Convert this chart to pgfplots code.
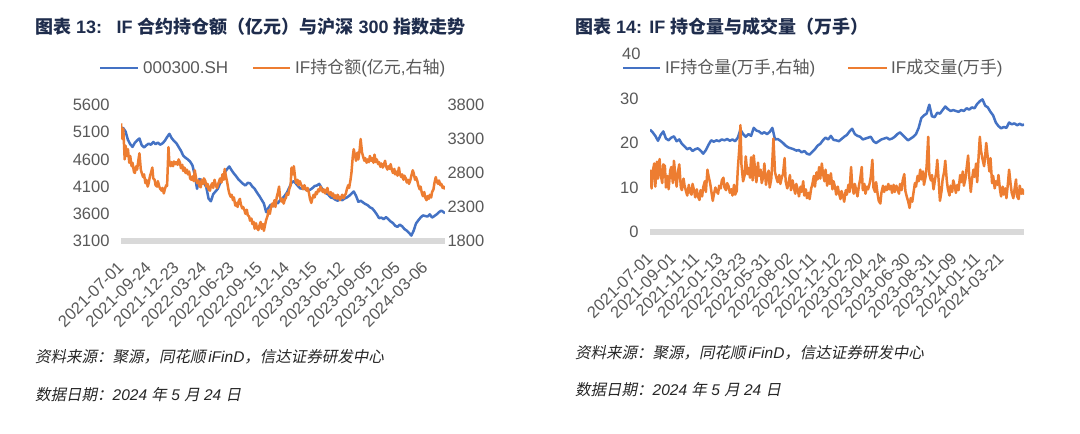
\documentclass[border=0pt]{standalone}
\usepackage{fontspec}
\setmainfont{Liberation Sans}
\newfontfamily\cjk{Noto Sans CJK SC}
\newfontfamily\cjkit{Noto Sans CJK SC}[FakeSlant=0.2]
\usepackage{pgfplots}
\pgfplotsset{compat=1.18}
\usepackage{pgfplotstable}

\definecolor{ablue}{HTML}{4472C4}
\definecolor{aorange}{HTML}{ED7D31}
\definecolor{tickgray}{HTML}{595959}
\definecolor{bargray}{HTML}{D9D9D9}
\definecolor{titleblue}{HTML}{1F2D4D}
\definecolor{notegray}{HTML}{262626}

% CSI 300 close (left axis of chart 13), x = trading day index from 2021-07-01
\pgfplotstableread{
x y
0 5140
5 5175
10 5110
15 4960
20 4880
25 4830
30 4905
35 4950
40 4985
45 4860
50 4820
55 4860
60 4890
65 4870
70 4920
75 4880
80 4910
85 4870
90 4895
95 4940
100 5010
105 5070
110 4990
115 4940
120 4900
125 4830
130 4760
135 4670
140 4630
145 4600
150 4560
155 4490
160 4320
165 4060
170 4240
175 4220
180 4170
185 4090
190 3880
195 3830
200 3960
205 4010
210 4060
215 4160
220 4270
225 4360
230 4420
235 4470
240 4400
245 4340
250 4290
255 4230
260 4190
265 4150
270 4120
275 4170
280 4160
285 4100
290 4060
295 3990
300 3930
305 3860
310 3790
315 3630
320 3710
325 3770
330 3740
335 3820
340 3790
345 3850
350 3880
355 3930
360 3990
365 4080
370 4170
375 4200
380 4150
385 4100
390 4060
395 4090
400 4050
405 4030
410 4040
415 4070
420 4110
425 4120
430 4150
435 4080
440 4020
445 3980
450 3950
455 3900
460 3890
465 3860
470 3840
475 3870
480 3850
485 3880
490 3900
495 3930
500 3970
505 4010
510 3930
515 3820
520 3840
525 3810
530 3780
535 3760
540 3720
545 3700
550 3650
555 3590
560 3520
565 3530
570 3500
575 3540
580 3500
585 3460
590 3430
595 3380
600 3360
605 3400
610 3370
615 3320
620 3290
625 3250
630 3200
635 3290
640 3420
645 3480
650 3530
655 3570
660 3560
665 3550
670 3590
675 3530
680 3560
685 3590
690 3630
695 3660
700 3630
703 3610
}\hsindex

% IF open interest value, 100 million CNY (right axis of chart 13)
\pgfplotstableread{
x y
0 3530
3 3300
5 3450
8 3000
10 3200
13 3050
15 3150
18 2950
20 3050
23 2900
25 2950
28 2820
30 2800
33 2900
35 2850
38 3000
40 3090
43 2850
45 2800
48 2740
50 2780
53 2650
55 2700
58 2600
60 2650
63 2760
65 2800
68 2880
70 2720
73 2700
75 2620
78 2600
80 2680
83 2600
85 2570
88 2540
90 2580
93 2500
95 2560
98 2620
100 2610
103 3180
105 2950
108 2900
110 2960
113 2900
115 2970
118 2930
120 2960
123 2920
125 3000
128 2950
130 2870
133 2920
135 2830
138 2880
140 2800
143 2850
145 2780
148 2820
150 2720
153 2700
155 2750
158 2680
160 2840
163 2720
165 2650
168 2690
170 2610
173 2590
175 2700
178 2640
180 2720
183 2680
185 2600
188 2640
190 2560
193 2540
195 2610
198 2650
200 2580
203 2700
205 2640
208 2580
210 2620
213 2680
215 2720
218 2660
220 2780
223 2700
225 2860
228 2740
230 2680
233 2560
235 2500
238 2450
240 2480
243 2400
245 2440
248 2320
250 2360
253 2300
255 2380
258 2420
260 2340
263 2280
265 2300
268 2250
270 2200
273 2260
275 2180
278 2160
280 2100
283 2130
285 2050
288 2080
290 1980
293 2060
295 1990
298 1960
300 2020
303 2080
305 1980
308 2050
310 1950
313 2050
315 2110
318 2170
320 2250
323 2200
325 2280
328 2350
330 2310
333 2400
335 2300
338 2450
340 2500
343 2600
345 2450
348 2380
350 2420
353 2350
355 2400
358 2440
360 2500
363 2480
365 2560
368 2620
370 2880
373 2780
375 2900
378 2720
380 2650
383 2700
385 2620
388 2680
390 2640
393 2600
395 2560
398 2620
400 2580
403 2540
405 2580
408 2500
410 2420
413 2360
415 2420
418 2480
420 2440
423 2520
425 2490
428 2560
430 2530
433 2600
435 2560
438 2520
440 2560
443 2500
445 2540
448 2580
450 2510
453 2480
455 2520
458 2460
460 2500
463 2430
465 2470
468 2420
470 2480
473 2440
475 2400
478 2450
480 2480
483 2430
485 2460
488 2500
490 2560
493 2620
495 2580
498 2700
500 2800
503 3050
505 3150
508 3050
510 2980
513 3100
515 3000
518 3150
520 3300
523 3100
525 3050
528 2980
530 3020
533 2950
535 3000
538 2960
540 3050
543 2980
545 3020
548 2950
550 3070
553 2960
555 3000
558 2930
560 2960
563 2890
565 2940
568 2880
570 2920
573 2980
575 2900
578 2850
580 2900
583 2860
585 2930
588 2840
590 2800
593 2860
595 2780
598 2820
600 2760
603 2880
605 2790
608 2740
610 2780
613 2700
615 2760
618 2720
620 2660
623 2700
625 2640
628 2700
630 2760
633 2840
635 2800
638 2700
640 2740
643 2680
645 2620
648 2560
650 2600
653 2500
655 2460
658 2520
660 2440
663 2400
665 2460
668 2420
670 2480
673 2440
675 2520
678 2560
680 2650
683 2740
685 2680
688 2640
690 2690
693 2620
695 2640
698 2580
700 2600
703 2560
}\ifvalue

% IF open interest, 10k lots (chart 14)
\pgfplotstableread{
x y
0 23.0
5 22.4
10 21.6
15 20.5
20 21.8
25 22.6
30 21.0
35 20.6
40 21.2
45 21.5
50 20.4
55 20.8
60 19.8
65 19.2
70 18.6
75 18.9
80 18.2
85 18.6
90 18.8
95 18.3
100 17.6
105 18.4
110 19.6
115 20.6
120 20.3
125 20.6
130 20.4
135 20.8
140 20.6
145 20.9
150 20.5
155 20.8
160 20.4
165 21.2
170 23.0
175 22.0
180 21.4
185 22.0
190 21.6
195 23.4
200 22.8
205 22.6
210 22.1
215 22.4
220 22.0
225 22.5
230 23.4
235 20.8
240 20.9
245 20.5
250 20.0
255 19.4
260 19.0
265 18.8
270 18.6
275 18.3
280 18.4
285 17.9
290 18.2
295 17.6
300 17.4
305 18.0
310 18.6
315 19.4
320 19.8
325 20.6
330 21.2
335 20.8
340 21.6
345 20.7
350 20.6
355 20.4
360 20.9
365 21.4
370 21.8
375 22.6
380 23.2
385 22.0
390 21.6
395 21.4
400 20.8
405 21.0
410 21.2
415 21.4
420 20.4
425 20.0
430 20.4
435 20.8
440 21.0
445 21.2
450 20.8
455 21.0
460 21.4
465 22.0
470 22.4
475 21.8
480 21.2
485 20.6
490 21.0
495 21.4
500 22.0
505 23.4
510 25.6
515 26.2
520 26.6
525 28.6
530 26.0
535 25.8
540 26.8
545 26.6
550 27.4
555 28.2
560 27.6
565 27.2
570 27.4
575 27.2
580 27.0
585 27.4
590 27.2
595 27.8
600 27.5
605 28.0
610 27.8
615 28.8
620 29.4
625 29.8
630 28.4
635 28.0
640 27.0
645 26.2
650 24.6
655 23.8
660 23.3
665 23.6
670 23.4
675 24.6
680 24.2
685 24.4
690 24.0
695 24.3
700 24.0
703 24.2
}\ifoi

% IF volume, 10k lots (chart 14)
\pgfplotstableread{
x y
0 14.0
3 9.8
5 13.5
8 15.4
10 10.2
13 15.8
15 12.0
18 16.4
20 13.0
23 11.0
25 15.2
28 14.8
30 10.0
33 12.6
35 9.6
38 13.8
40 14.6
43 11.0
45 16.0
48 12.4
50 10.2
53 13.8
55 15.2
58 10.0
60 9.4
63 12.0
65 10.4
68 9.0
70 8.2
73 10.6
75 9.0
78 8.4
80 10.8
83 9.2
85 7.8
88 9.6
90 8.0
93 7.2
95 9.4
98 8.0
100 10.0
103 11.4
105 9.0
108 14.0
110 12.6
113 11.0
115 9.4
118 7.0
120 8.4
123 10.0
125 9.2
128 8.6
130 10.4
133 9.8
135 11.6
138 12.2
140 10.0
143 9.4
145 11.0
148 10.2
150 8.8
153 9.6
155 8.2
158 10.6
160 8.4
163 9.2
165 14.0
168 19.0
170 24.0
172 15.0
175 11.4
178 12.8
180 17.0
183 13.0
185 14.4
188 12.2
190 16.8
193 11.6
195 17.2
198 13.4
200 11.2
203 15.6
205 12.6
208 14.0
210 11.0
213 12.4
215 15.4
218 10.6
220 12.2
223 13.8
225 10.0
228 12.0
230 16.0
232 21.0
235 13.4
238 12.0
240 11.2
243 12.8
245 10.8
248 12.4
250 13.0
253 16.6
255 11.4
258 9.8
260 10.8
263 12.8
265 9.4
268 11.6
270 10.2
273 8.6
275 10.8
278 9.4
280 8.0
283 10.2
285 9.0
288 11.4
290 8.2
293 9.6
295 7.6
298 8.8
300 7.4
303 9.8
305 10.6
308 12.6
310 10.2
313 13.4
315 11.8
318 14.6
320 12.0
323 15.4
325 13.2
328 11.4
330 14.0
333 10.4
335 12.8
338 10.8
340 13.2
343 9.6
345 11.4
348 10.0
350 8.4
353 10.2
355 8.8
358 7.4
360 9.2
363 8.0
365 6.8
368 9.4
370 8.4
373 10.6
375 9.0
378 14.6
380 10.4
383 8.6
385 10.8
388 9.2
390 8.0
393 10.6
395 11.8
398 14.6
400 9.4
403 10.8
405 8.6
408 10.2
410 9.6
413 11.0
415 12.4
418 16.2
420 10.0
423 9.0
425 11.2
428 8.4
430 7.0
433 6.4
435 8.8
438 10.4
440 9.0
443 10.2
445 9.4
448 10.8
450 9.6
453 10.4
455 8.8
458 10.6
460 9.0
463 10.4
465 9.8
468 8.6
470 10.8
473 9.4
475 11.6
478 13.0
480 9.2
483 7.8
485 7.0
488 5.4
490 7.6
493 6.8
495 8.6
498 11.0
500 10.2
503 12.6
505 11.4
508 14.0
510 11.8
513 13.6
515 10.6
518 12.4
520 14.8
523 21.4
525 13.0
528 11.6
530 12.8
533 9.6
535 11.2
538 13.4
540 16.2
543 10.8
545 7.0
548 9.2
550 11.8
553 13.6
555 16.0
558 11.4
560 9.6
563 8.2
565 10.4
568 9.0
570 11.6
573 10.2
575 8.8
578 10.6
580 9.4
583 12.8
585 11.2
588 13.6
590 10.4
593 12.0
595 14.2
598 17.2
600 12.6
603 9.0
605 11.6
608 14.0
610 12.4
613 15.4
615 11.2
618 17.6
620 21.4
622 18.4
625 16.4
628 14.8
630 17.0
632 20.0
635 16.6
638 13.6
640 16.6
643 11.0
645 12.6
648 9.8
650 11.4
653 10.6
655 12.8
658 9.4
660 8.0
663 10.2
665 8.4
668 9.8
670 7.6
673 11.2
675 14.0
678 10.6
680 8.8
683 7.6
685 9.4
688 11.8
690 8.0
693 7.4
695 10.4
698 8.6
700 9.6
703 8.4
}\ifvol

\pgfplotsset{
  excel/.style={
    scale only axis,
    xmin=0, xmax=703,
    axis x line*=bottom,
    axis y line*=left,
    y axis line style={draw=none},
    x axis line style={line width=6pt, draw=bargray, -},
    major tick length=0pt,
    hide obscured y ticks=false,
    scaled y ticks=false,
    /pgf/number format/1000 sep={},
    /pgf/number format/assume math mode=true,
    ticklabel style={font=\fontsize{16.5}{18}\selectfont, text=tickgray},
    yticklabel style={xshift=-8pt},
    xticklabel style={xshift=2pt, yshift=-21pt, rotate=45, anchor=east},
  },
}

\begin{document}
\begin{tikzpicture}[x=1pt,y=1pt]
\path[use as bounding box, fill=white] (0,0) rectangle (1080,434);

% ---------- chart 13 ----------
\node[anchor=west, text=titleblue, inner sep=0pt] at (35,407)
  {\fontsize{18}{20}\selectfont\bfseries{\cjk 图表} 13:\hspace{0.8em}IF {\cjk 合约持仓额（亿元）与沪深} 300 {\cjk 指数走势}};

\draw[ablue, line width=2.4pt] (100,366) -- (138,366);
\node[anchor=west, text=tickgray, inner sep=0pt] at (143,366) {\fontsize{17}{18}\selectfont 000300.SH};
\draw[aorange, line width=2.4pt] (253,366) -- (290,366);
\node[anchor=west, text=tickgray, inner sep=0pt] at (295,366) {\fontsize{17}{18}\selectfont IF{\cjk 持仓额}({\cjk 亿元},{\cjk 右轴})};

\begin{axis}[excel, at={(121pt,193pt)}, anchor=south west,
    width=324pt, height=136pt,
    ymin=3100, ymax=5600, ytick={3100,3600,4100,4600,5100,5600},
    xtick={0,60,...,660},
    xticklabels={2021-07-01,2021-09-24,2021-12-23,2022-03-24,2022-06-23,2022-09-15,2022-12-14,2023-03-15,2023-06-12,2023-09-05,2023-12-05,2024-03-06},
  ]
  \addplot[ablue, line width=2.5pt, line join=round] table {\hsindex};
\end{axis}

\begin{axis}[excel, at={(121pt,193pt)}, anchor=south west,
    width=324pt, height=136pt,
    axis y line*=right, axis x line=none,
    yticklabel style={xshift=7pt},
    ymin=1800, ymax=3800, ytick={1800,2300,2800,3300,3800},
  ]
  \addplot[aorange, line width=2.5pt, line join=round] table {\ifvalue};
\end{axis}

\node[anchor=west, text=notegray, inner sep=0pt] at (35,77)
  {\fontsize{15.5}{17}\selectfont{\cjkit 资料来源：聚源，同花顺}\,\textit{iFinD}{\cjkit ，信达证券研发中心}};
\node[anchor=west, text=notegray, inner sep=0pt] at (35,39)
  {\fontsize{15.5}{17}\selectfont{\cjkit 数据日期：}\textit{2024} {\cjkit 年} \textit{5} {\cjkit 月} \textit{24} {\cjkit 日}};

% ---------- chart 14 ----------
\node[anchor=west, text=titleblue, inner sep=0pt] at (575,407)
  {\fontsize{18}{20}\selectfont\bfseries{\cjk 图表} 14:\hspace{0.4em}IF {\cjk 持仓量与成交量（万手）}};

\begin{axis}[excel, at={(650pt,202pt)}, anchor=south west,
    width=374pt, height=178pt,
    ymin=0, ymax=40, ytick={0,10,20,30},
    extra y ticks={40},
    extra y tick style={yticklabel style={xshift=2pt}},
    xtick={0,44,...,660},
    xticklabels={2021-07-01,2021-09-01,2021-11-11,2022-01-13,2022-03-23,2022-05-31,2022-08-02,2022-10-11,2022-12-12,2023-02-20,2023-04-24,2023-06-30,2023-08-31,2023-11-09,2024-01-11,2024-03-21},
  ]
  \addplot[ablue, line width=2.5pt, line join=round] table {\ifoi};
  \addplot[aorange, line width=2.5pt, line join=round] table {\ifvol};
\end{axis}

\draw[ablue, line width=2.4pt] (623,366) -- (660,366);
\node[anchor=west, text=tickgray, inner sep=0pt] at (665,366) {\fontsize{17}{18}\selectfont IF{\cjk 持仓量}({\cjk 万手},{\cjk 右轴})};
\draw[aorange, line width=2.4pt] (848,366) -- (887,366);
\node[anchor=west, text=tickgray, inner sep=0pt] at (891,366) {\fontsize{17}{18}\selectfont IF{\cjk 成交量}({\cjk 万手})};

\node[anchor=west, text=notegray, inner sep=0pt] at (575,81)
  {\fontsize{15.5}{17}\selectfont{\cjkit 资料来源：聚源，同花顺}\,\textit{iFinD}{\cjkit ，信达证券研发中心}};
\node[anchor=west, text=notegray, inner sep=0pt] at (575,44)
  {\fontsize{15.5}{17}\selectfont{\cjkit 数据日期：}\textit{2024} {\cjkit 年} \textit{5} {\cjkit 月} \textit{24} {\cjkit 日}};

\end{tikzpicture}
\end{document}
